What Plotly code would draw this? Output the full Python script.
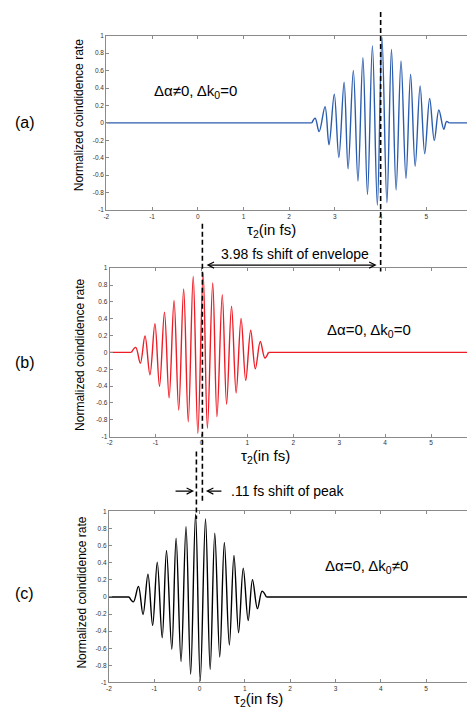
import plotly.graph_objects as go

W, H = 475, 725
OFF = 8  # page body margin of the exported html

# ---------------- data (extrema) ----------------
# panel (a): delta alpha != 0, delta k0 = 0   (blue)
a_x = [2.496, 2.568, 2.655, 2.784, 2.871, 2.986, 3.086, 3.201, 3.288, 3.403, 3.504,
       3.612, 3.712, 3.820, 3.928, 4.029, 4.137, 4.237, 4.338, 4.446, 4.554, 4.655,
       4.755, 4.863, 4.964, 5.072, 5.173, 5.273, 5.381, 5.44, 5.50]
a_y = [0, 0.053, -0.099, 0.186, -0.250, 0.330, -0.395, 0.467, -0.527, 0.603, -0.668,
       0.748, -0.820, 0.884, -0.945, 0.983, -0.915, 0.842, -0.770, 0.710, -0.638, 0.558,
       -0.497, 0.425, -0.353, 0.281, -0.201, 0.148, -0.072, 0.015, 0]

# panel (b): delta alpha = 0, delta k0 = 0   (red)
b_x = [-1.525, -1.432, -1.331, -1.230, -1.122, -1.014, -0.914, -0.806, -0.705, -0.597,
       -0.496, -0.388, -0.288, -0.180, -0.079, 0.036, 0.129, 0.245, 0.338, 0.453, 0.547,
       0.655, 0.755, 0.863, 0.964, 1.072, 1.173, 1.281, 1.381, 1.46]
b_y = [0, 0.059, -0.129, 0.196, -0.267, 0.341, -0.404, 0.478, -0.541, 0.616, -0.686,
       0.753, -0.824, 0.902, -0.961, 0.941, -0.902, 0.824, -0.765, 0.686, -0.616, 0.549,
       -0.482, 0.404, -0.333, 0.263, -0.196, 0.129, -0.067, 0]

# panel (c): delta alpha = 0, delta k0 != 0   (black)
c_x = [-1.555, -1.460, -1.350, -1.248, -1.139, -1.036, -0.934, -0.825, -0.730, -0.613,
       -0.518, -0.409, -0.299, -0.197, -0.088, 0.015, 0.131, 0.234, 0.336, 0.445, 0.547,
       0.657, 0.759, 0.861, 0.964, 1.073, 1.168, 1.277, 1.380, 1.474]
c_y = [0, -0.058, 0.124, -0.205, 0.267, -0.333, 0.407, -0.477, 0.543, -0.612, 0.686,
       -0.756, 0.822, -0.903, 0.969, -0.981, 0.911, -0.845, 0.744, -0.702, 0.636, -0.562,
       0.484, -0.419, 0.337, -0.275, 0.202, -0.136, 0.066, 0]

x_range = [-2, 6]
x_ticks = [-2, -1, 0, 1, 2, 3, 4, 5, 6]
x_ticktext = ["-2", "-1", "0", "1", "2", "3", "4", "5", "6"]
y_ticks = [-1, -0.8, -0.6, -0.4, -0.2, 0, 0.2, 0.4, 0.6, 0.8, 1]
y_ticktext = ["-1", "-0.8", "-0.6", "-0.4", "-0.2", "0", "0.2", "0.4", "0.6", "0.8", "1"]

# peak / envelope marker positions (data units of each panel)
peak_a = 4.0
peak_b = 0.02
peak_c = -0.07

FONT = "Liberation Sans, Arial, sans-serif"


def px(x):
    return (x - OFF) / W


def py(y):
    return 1 - (y - OFF) / H


fig = go.Figure()

panels = [
    ("x", "y", a_x, a_y, "#2B5DAE"),
    ("x2", "y2", b_x, b_y, "#EE1C25"),
    ("x3", "y3", c_x, c_y, "#000000"),
]
for xa, ya, xs, ys, col in panels:
    fig.add_trace(go.Scatter(x=xs, y=ys, xaxis=xa, yaxis=ya, mode="lines",
                             line=dict(color=col, width=1.4, shape="spline", smoothing=1.0),
                             showlegend=False, hoverinfo="skip"))
    fig.add_trace(go.Scatter(x=[x_range[0], xs[0], None, xs[-1], x_range[1]],
                             y=[0, 0, None, 0, 0], xaxis=xa, yaxis=ya, mode="lines",
                             line=dict(color=col, width=1.4),
                             showlegend=False, hoverinfo="skip"))

axis_common = dict(showgrid=False, zeroline=False, showline=True, linecolor="#8a8a8a",
                   linewidth=1, ticks="inside", ticklen=3, tickcolor="#8a8a8a",
                   tickfont=dict(family=FONT, size=6.5, color="#333333"))

# domains (pixel geometry)
dom = {
    "a": dict(x=[px(104.3), px(474)], y=[py(208), py(32)], xr=[-2, 6]),
    "b": dict(x=[px(107.7), px(475)], y=[py(436.7), py(266.7)],
              xr=[-2, -2 + (475 - 107.7) / 46.4]),
    "c": dict(x=[px(107.0), px(473.3)], y=[py(685), py(512.3)], xr=[-2, 6]),
}

layout = dict(width=W, height=H, margin=dict(l=0, r=0, t=0, b=0), autosize=False,
              paper_bgcolor="white", plot_bgcolor="white", showlegend=False)

for i, key in enumerate(["a", "b", "c"]):
    d = dom[key]
    sx = "" if i == 0 else str(i + 1)
    mirror_y = "ticks" if key != "b" else False
    layout["xaxis" + sx] = dict(axis_common, domain=d["x"], range=d["xr"], anchor="y" + sx,
                                tickvals=x_ticks, ticktext=x_ticktext, mirror="ticks")
    layout["yaxis" + sx] = dict(axis_common, domain=d["y"], range=[-1, 1], anchor="x" + sx,
                                tickvals=y_ticks, ticktext=y_ticktext, mirror=mirror_y)

fig.update_layout(**layout)

# dashed marker lines
dash_style = dict(color="black", width=1.6, dash="5px,3px")
fig.add_shape(type="line", xref="x", yref="paper", x0=peak_a, x1=peak_a,
              y0=py(8), y1=py(270), line=dash_style)
fig.add_shape(type="line", xref="x2", yref="paper", x0=peak_b, x1=peak_b,
              y0=py(221.7), y1=py(503), line=dash_style)
fig.add_shape(type="line", xref="x3", yref="paper", x0=peak_c, x1=peak_c,
              y0=py(451.7), y1=py(520), line=dash_style)

ann = []


def text(x, y, s, size, xanchor="center", angle=0, yanchor="middle"):
    ann.append(dict(x=px(x), y=py(y), xref="paper", yref="paper", text=s, showarrow=False,
                    xanchor=xanchor, yanchor=yanchor, textangle=angle,
                    font=dict(family=FONT, size=size, color="black")))


# panel letters
text(22, 120, "(a)", 16)
text(22, 362, "(b)", 16)
text(22, 595, "(c)", 16)

# y titles
text(77, 112, "Normalized coindidence rate", 12, angle=-90)
text(77, 354, "Normalized coindidence rate", 12, angle=-90)
text(80, 594, "Normalized coindidence rate", 12, angle=-90)

# x titles
text(271, 229, "τ<sub>2</sub>(in fs)", 15)
text(265, 457, "τ<sub>2</sub>(in fs)", 15)
text(258, 702, "τ<sub>2</sub>(in fs)", 15)

# condition labels
text(150, 88, "Δα≠0, Δk<sub>0</sub>=0", 15, xanchor="left")
text(325, 330, "Δα=0, Δk<sub>0</sub>=0", 15, xanchor="left")
text(323, 568, "Δα=0, Δk<sub>0</sub>≠0", 15, xanchor="left")

# shift annotations
text(295, 252, "3.98 fs shift of envelope", 14)
text(228, 491.7, ".11 fs shift of peak", 14, xanchor="left")

arrow = dict(showarrow=True, arrowhead=5, arrowsize=1, arrowwidth=1.2, arrowcolor="black",
             xref="paper", yref="paper", axref="pixel", ayref="pixel", text="")
# double arrow envelope shift
ann.append(dict(arrow, x=px(377.5), y=py(263.5), ax=-(377.5 - 206), ay=0,
                arrowside="end+start", startarrowhead=5, startarrowsize=1))
# peak shift arrows
ann.append(dict(arrow, x=px(193), y=py(491.7), ax=-(193 - 173), ay=0))
ann.append(dict(arrow, x=px(205), y=py(491.7), ax=(222 - 205), ay=0))

fig.update_layout(annotations=ann)

fig.write_html("out.html")
